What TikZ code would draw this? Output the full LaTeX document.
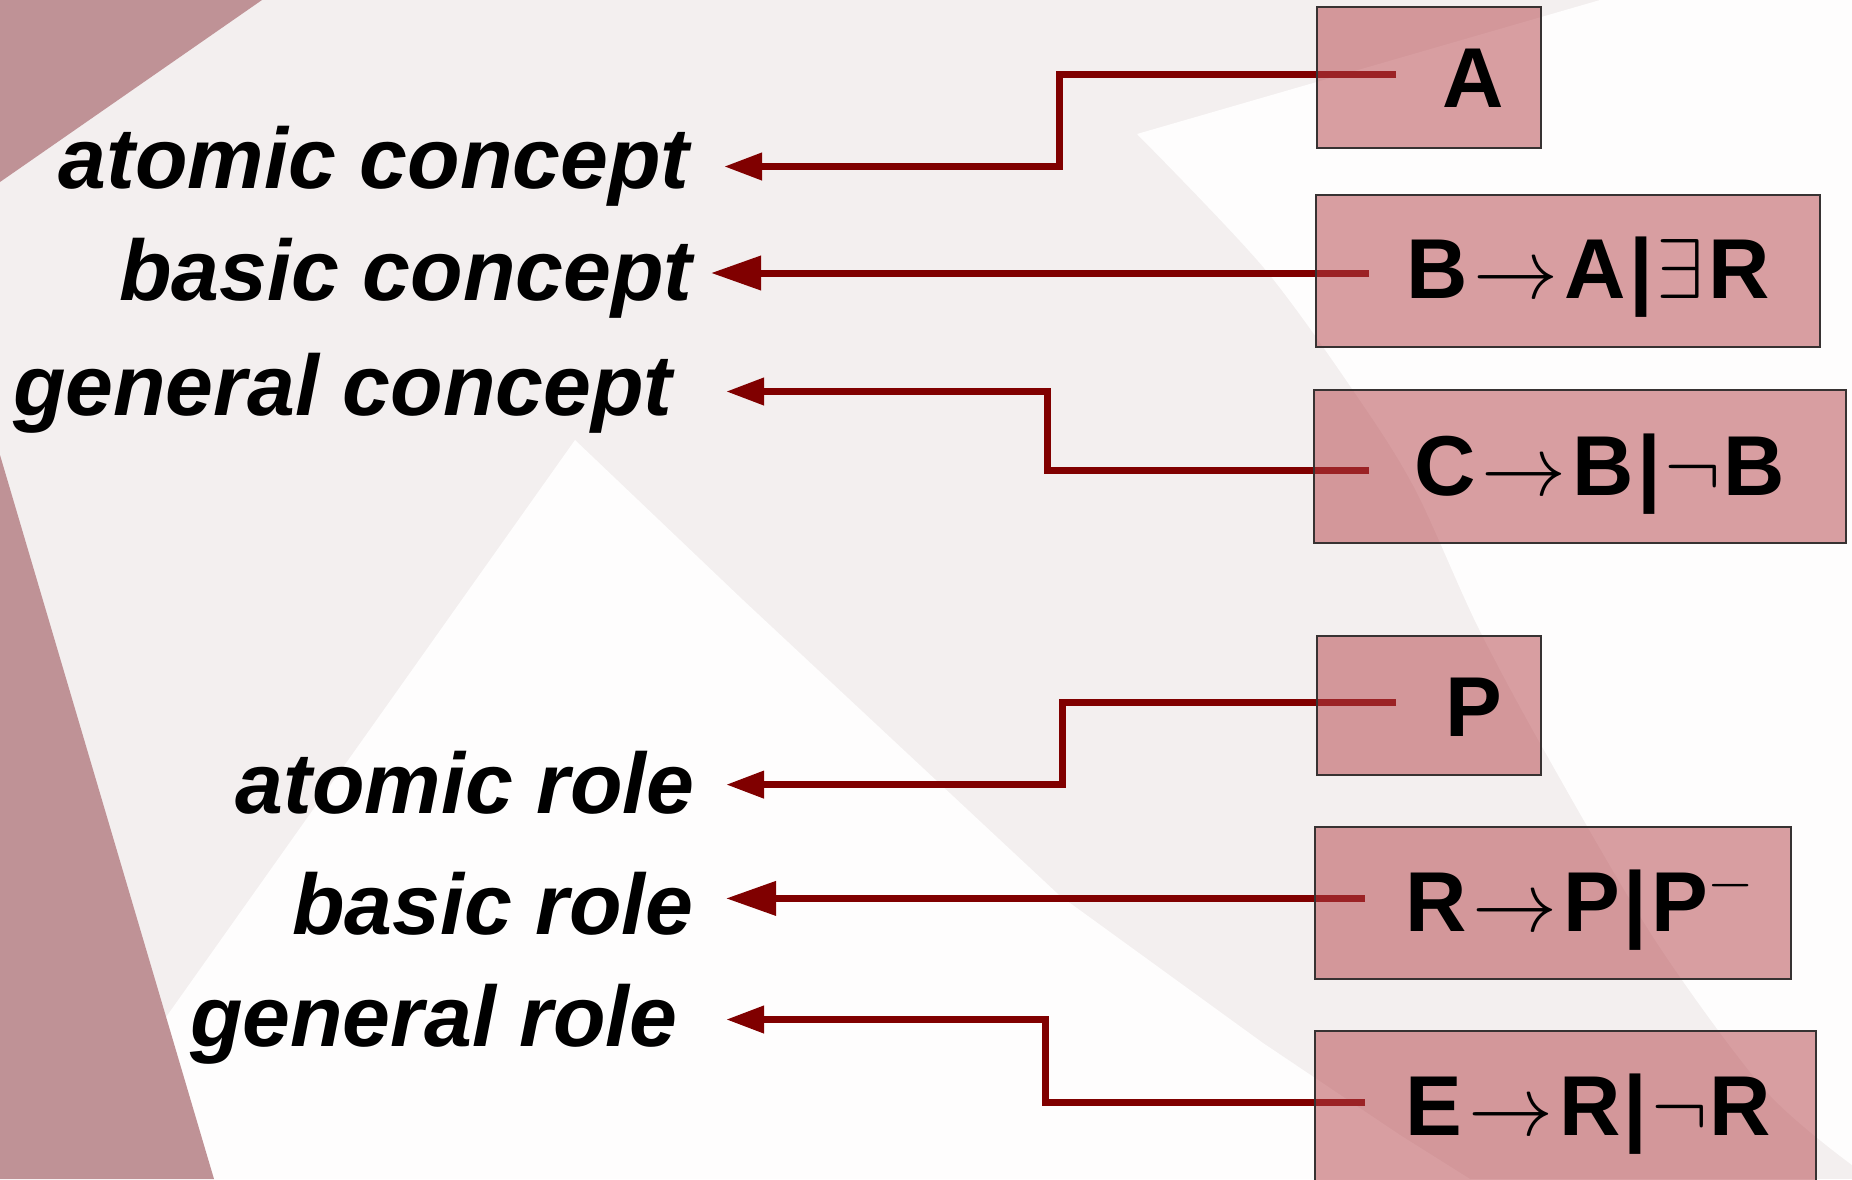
\RequirePackage{fix-cm}
\documentclass[tikz,border=0pt]{standalone}
\usepackage{fontspec}
\setmainfont{Liberation Sans}
\usetikzlibrary{arrows.meta,fit}
\definecolor{bggrey}{RGB}{243,239,239}
\definecolor{bgwhite}{RGB}{254,253,253}
\definecolor{bgdark}{RGB}{191,146,150}
\definecolor{linered}{RGB}{128,0,0}
\definecolor{boxfill}{RGB}{181,68,74}
\definecolor{boxline}{RGB}{55,50,50}
\newcommand{\arr}{\kern3pt${\rightarrow}$\kern3pt}
\newcommand{\vb}{\kern1.5pt|\kern2pt}
\begin{document}
\begin{tikzpicture}[x=0.5pt,y=-0.5pt,
  conn/.style={draw=linered, line width=3.5pt},
  smallhead/.style={-{Triangle[length=19pt,width=13pt]}},
  bighead/.style={-{Triangle[length=25pt,width=16.5pt]}},
  box/.style={draw=boxline, line width=1pt, fill=boxfill, fill opacity=0.51, inner sep=0pt},
  boxtext/.style={font=\fontsize{42.5}{50}\selectfont\bfseries, inner sep=0pt, anchor=base west},
  lab/.style={font=\fontsize{43}{50}\selectfont\bfseries\itshape, inner sep=0pt, anchor=base east}]
\useasboundingbox (0,0) rectangle (1852,1179);
\clip (0,0) rectangle (1852,1179);
% background
\fill[bggrey] (0,0) rectangle (1852,1179);
\fill[bgwhite] (1600,0) -- (1137,134) -- plot[smooth] coordinates {(1137,134) (1264,268) (1361,402) (1416,491) (1477,625) (1545,752) (1655,940) (1765,1090) (1852,1165)} -- (1852,0) -- cycle;
\fill[bgwhite] (575,440) -- (743,600) -- (1059,895) -- (1263,1043) -- (1400,1135) -- (1470,1179) -- (214,1179) -- (164,1020) -- cycle;
\fill[bgdark] (0,0) -- (262,0) -- (0,182) -- cycle;
\fill[bgdark] (0,455) -- (214,1179) -- (0,1179) -- cycle;

% labels
\node[lab] (lA) at (690,188) {atomic concept};
\node[lab] (lB) at (693,300) {basic concept};
\node[lab] (lC) at (673,415) {general concept};
\node[lab] (lP) at (695,813) {atomic role};
\node[lab] (lR) at (694,934) {basic role};
\node[lab] (lE) at (678,1046) {general role};

% connector end points
\coordinate (sA) at (1396,74);    \coordinate (tA) at (724,166.5);
\coordinate (sB) at (1369,273);   \coordinate (tB) at (711,273);
\coordinate (sC) at (1369,470);   \coordinate (tC) at (726,391.5);
\coordinate (sP) at (1396,702);   \coordinate (tP) at (726,784.6);
\coordinate (sR) at (1365,898.4); \coordinate (tR) at (726,898.4);
\coordinate (sE) at (1365,1102);  \coordinate (tE) at (726,1019.5);

% connectors
\draw[conn,smallhead] (sA) -- (1059,74) |- (tA);
\draw[conn,bighead] (sB) -- (tB);
\draw[conn,smallhead] (sC) -- (1047,470) |- (tC);
\draw[conn,smallhead] (sP) -- (1062,702) |- (tP);
\draw[conn,bighead] (sR) -- (tR);
\draw[conn,smallhead] (sE) -- (1045,1102) |- (tE);

% boxes
\coordinate (a1) at (1316.5,7);   \coordinate (a2) at (1540.5,148);
\coordinate (b1) at (1316,194.5); \coordinate (b2) at (1820,346.5);
\coordinate (c1) at (1314,390);   \coordinate (c2) at (1846,543);
\coordinate (p1) at (1317,636);   \coordinate (p2) at (1540.5,775);
\coordinate (r1) at (1315,827);   \coordinate (r2) at (1790.5,979);
\coordinate (e1) at (1315,1031);  \coordinate (e2) at (1816,1195);
\node[box, fit=(a1)(a2)] (boxA) {};
\node[box, fit=(b1)(b2)] (boxB) {};
\node[box, fit=(c1)(c2)] (boxC) {};
\node[box, fit=(p1)(p2)] (boxP) {};
\node[box, fit=(r1)(r2)] (boxR) {};
\node[box, fit=(e1)(e2)] (boxE) {};

% box texts
\node[boxtext] (xA) at (1442,107) {A};
\node[boxtext] (xB) at (1406,298.5) {B\arr A\vb$\exists$\kern2pt R};
\node[boxtext] (xC) at (1414,495.6) {C\arr B\vb$\neg$\kern1pt B};
\node[boxtext] (xP) at (1445,736) {P};
\node[boxtext] (xR) at (1405,931.6) {R\arr P\vb P$^{-}$};
\node[boxtext] (xE) at (1405,1135.5) {E\arr R\vb$\neg$\kern1pt R};
\end{tikzpicture}
\end{document}
